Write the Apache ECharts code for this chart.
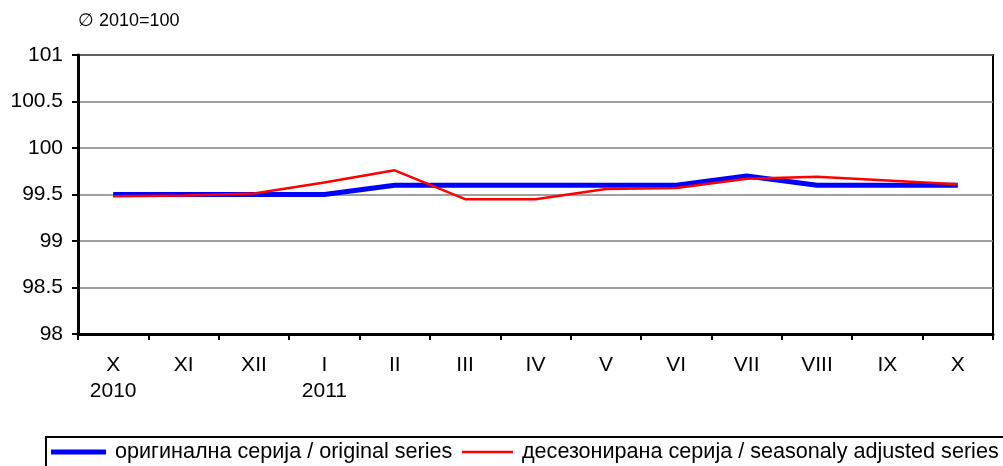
<!DOCTYPE html>
<html>
<head>
<meta charset="utf-8">
<script src="https://cdn.jsdelivr.net/npm/echarts@6/dist/echarts.min.js"></script>
<style>
  html, body { margin: 0; padding: 0; background: #fff; }
  #chart { width: 1003px; height: 466px; }
</style>
</head>
<body>
<div id="chart"></div>
<script>
  // месеци (X 2010 - X 2011)
  const months = ['X', 'XI', 'XII', 'I', 'II', 'III', 'IV', 'V', 'VI', 'VII', 'VIII', 'IX', 'X']
  const years = ['2010', '', '', '2011', '', '', '', '', '', '', '', '', '']
  const original = [99.5, 99.5, 99.5, 99.5, 99.6, 99.6, 99.6, 99.6, 99.6, 99.7, 99.6, 99.6, 99.6]
  const adjusted = [99.48, 99.49, 99.51, 99.63, 99.76, 99.45, 99.45, 99.56, 99.57, 99.67, 99.69, 99.65, 99.61]
  const yMin = 98
  const yMax = 101
  const yStep = 0.5
  const nameOrig = 'оригинална серија / original series'
  const nameAdj = 'десезонирана серија / seasonaly adjusted series'

  const labels = months.map((m, i) => years[i] ? m + '\n' + years[i] : m)
  const font = 'Liberation Sans, Arial, sans-serif'
  const legendText = { fontFamily: font, fontSize: 21.6, color: '#000', padding: [0, 0, 0, 4] }

  let chart = echarts.init(document.getElementById('chart'))
  chart.setOption({
    animation: false,
    textStyle: { fontFamily: font, color: '#000' },
    title: {
      text: '∅ 2010=100',
      left: 78,
      top: 12,
      padding: 0,
      textStyle: { fontFamily: font, fontSize: 18, fontWeight: 'normal', color: '#000' }
    },
    // рамка за легенда
    graphic: [{
      type: 'rect',
      left: 45,
      top: 436,
      shape: { width: 970, height: 50 },
      style: { fill: '#fff', stroke: '#000', lineWidth: 2 },
      z: 0
    }],
    grid: {
      left: 78,
      right: 10,
      top: 55,
      bottom: 132,
      show: true,
      borderColor: '#000',
      borderWidth: 2
    },
    legend: [
      {
        left: 51,
        top: 441,
        padding: 0,
        icon: 'rect',
        itemWidth: 55,
        itemHeight: 5,
        textStyle: legendText,
        data: [nameOrig]
      },
      {
        left: 462,
        top: 441,
        padding: 0,
        icon: 'rect',
        itemWidth: 51,
        itemHeight: 2.5,
        textStyle: legendText,
        data: [nameAdj]
      }
    ],
    xAxis: {
      type: 'category',
      data: labels,
      boundaryGap: true,
      axisLine: { lineStyle: { color: '#000', width: 3 } },
      axisTick: { show: true, length: 6, lineStyle: { color: '#000', width: 2 } },
      axisLabel: { fontSize: 21, color: '#000', lineHeight: 26, margin: 18, fontFamily: font },
      splitLine: { show: false }
    },
    yAxis: {
      type: 'value',
      min: yMin,
      max: yMax,
      interval: yStep,
      axisLine: { show: true, lineStyle: { color: '#000', width: 3 } },
      axisTick: { show: true, length: 6, lineStyle: { color: '#000', width: 2 } },
      axisLabel: { fontSize: 21, color: '#000', margin: 15, fontFamily: font },
      splitLine: { show: true, lineStyle: { color: '#808080', width: 1.5 } }
    },
    series: [
      {
        name: nameOrig,
        type: 'line',
        data: original,
        symbol: 'none',
        color: '#0000ff',
        lineStyle: { color: '#0000ff', width: 5 },
        z: 2
      },
      {
        name: nameAdj,
        type: 'line',
        data: adjusted,
        symbol: 'none',
        color: '#ff0000',
        lineStyle: { color: '#ff0000', width: 2.5 },
        z: 3
      }
    ]
  })
</script>
</body>
</html>
